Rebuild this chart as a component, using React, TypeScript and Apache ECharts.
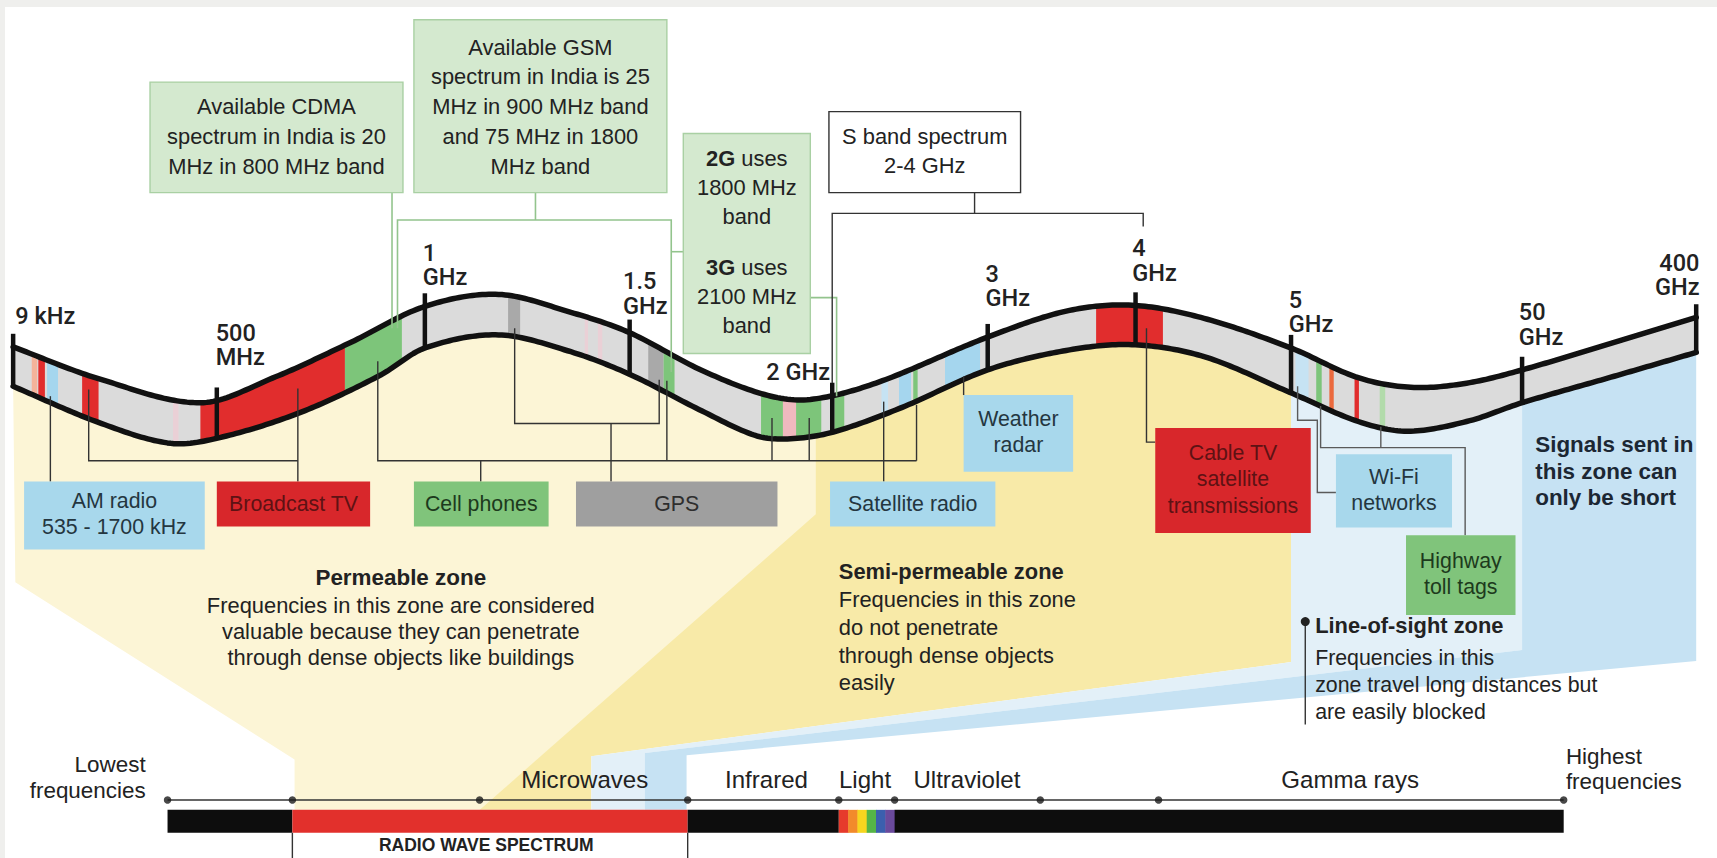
import React, { useEffect, useRef } from "react";
import * as echarts from "echarts";

const W = 1717;
const H = 858;
const LW = 1568; // layout units the reference was read in
const LH = 784;
const KX = W / LW;
const KY = H / LH;

// ================= DATA =================
// wave ribbon outline: position along the ribbon -> height
const topAt = [12, 90, 183, 250, 320, 388, 455, 520, 575, 640, 700, 740, 800, 902, 975, 1035, 1100, 1179, 1240, 1290, 1340, 1390, 1470, 1549];
const topY = [317, 346, 368, 345, 313, 280, 269, 285, 304, 338, 361, 365, 350, 308, 284, 279, 291, 318, 345, 354, 350, 338, 314, 290];
const botAt = [12, 90, 155, 200, 274, 347, 388, 455, 520, 575, 640, 690, 720, 760, 822, 902, 975, 1035, 1100, 1179, 1240, 1285, 1340, 1390, 1470, 1549];
const botY = [353, 386, 405, 400, 377, 343, 318, 306, 321, 342, 375, 398, 401, 395, 373, 338, 320, 315, 326, 359, 385, 394, 385, 368, 345, 322];

// frequency marks on the ribbon
const tickAt = [12, 198, 388, 575, 760, 902, 1037, 1179, 1390, 1549];
const tickNames = ["9 kHz", "500\nMHz", "1\nGHz", "1.5\nGHz", "2 GHz", "3\nGHz", "4\nGHz", "5\nGHz", "50\nGHz", "400\nGHz"];

// allocated bands on the ribbon
const bandFrom = [29, 35, 43, 75, 158, 183, 315, 464, 534, 546, 592, 606, 695, 715, 727, 762, 805, 821, 834, 863, 1001, 1183, 1202, 1214, 1237, 1260];
const bandTo = [34, 41, 53, 90, 163, 315, 367, 475, 537, 550, 606, 616, 715, 727, 750, 771, 811, 832, 838, 895, 1062, 1195, 1207, 1218, 1241, 1265];
const bandUse = ["salmon", "red", "blue", "red", "faintPink", "red", "green", "gray", "faintPink", "faintPink", "gray", "green", "green", "pink", "green", "green", "paleBlue", "blue", "green", "blue", "red", "paleBlue", "green", "orange", "red", "paleGreen"];

// services
const serviceNames = ["AM radio\n535 - 1700 kHz", "Broadcast TV", "Cell phones", "GPS", "Satellite radio", "Weather\nradar", "Cable TV\nsatellite\ntransmissions", "Wi-Fi\nnetworks", "Highway\ntoll tags"];
const serviceUse = ["blue", "red", "green", "gray", "blue", "blue", "red", "blue", "green"];

// callouts
const cdmaNote = "Available CDMA\nspectrum in India is 20\nMHz in 800 MHz band";
const gsmNote = "Available GSM\nspectrum in India is 25\nMHz in 900 MHz band\nand 75 MHz in 1800\nMHz band";
const note2G = "{b|2G} uses\n1800 MHz\nband";
const note3G = "{b|3G} uses\n2100 MHz\nband";
const sBandNote = "S band spectrum\n2-4 GHz";

// zones
const zoneTitles = ["Permeable zone", "Semi-permeable zone", "Line-of-sight zone"];
const zoneNotes = [
  "Frequencies in this zone are considered\nvaluable because they can penetrate\nthrough dense objects like buildings",
  "Frequencies in this zone\ndo not penetrate\nthrough dense objects\neasily",
  "Frequencies in this\nzone travel long distances but\nare easily blocked",
];
const shortZoneNote = "Signals sent in\nthis zone can\nonly be short";

// electromagnetic spectrum bar
const spectrumStops = [153, 267, 438, 628, 766, 817, 950, 1058, 1428];
const spectrumFrom = [153, 267, 628, 766, 817];
const spectrumTo = [267, 628, 766, 817, 1428];
const spectrumKind = ["dark", "radio", "dark", "visible", "dark"];
const spectrumNames = ["Microwaves", "Infrared", "Light", "Ultraviolet", "Gamma rays"];
const lowestName = "Lowest\nfrequencies";
const highestName = "Highest\nfrequencies";
const radioBandName = "RADIO WAVE SPECTRUM";

// ================= STYLE / LAYOUT =================
const FONT = "'Liberation Sans', Arial, Helvetica, sans-serif";
const MARK_FONT = "Roboto, 'Liberation Sans', Arial, sans-serif";
const INK = "#222222";

const bandColour: Record<string, string> = {
  red: "#e12d2d", green: "#7dc57a", blue: "#a5d6ee", gray: "#a9a9a9", pink: "#f0b9bf",
  faintPink: "#ead0d6", salmon: "#f4b39a", paleBlue: "#c6e3f3", orange: "#eb6a3e", paleGreen: "#b2dbab",
};
const boxColour: Record<string, string> = { blue: "#a8d8ec", red: "#d8272b", green: "#80c47b", gray: "#9f9f9f" };
const boxInk: Record<string, string> = { blue: "#243640", red: "#5e1214", green: "#1d3a1d", gray: "#2e2e2e" };
const visibleColours = ["#e63a2c", "#f28a2b", "#f6d51f", "#55b447", "#3b5fae", "#6a4a9c"];

const tickLabelLayout: [number, number, string][] = [
  [14, 289, "left"], [197, 304, "left"], [386, 231, "left"], [569, 257, "left"], [758, 340, "right"],
  [900, 250, "left"], [1034, 227, "left"], [1177, 274, "left"], [1387, 285, "left"], [1552, 240, "right"],
];
const serviceBoxes = [
  [22, 440, 187, 502], [198, 440, 338, 481], [378, 440, 501, 481], [526, 440, 710, 481], [758, 440, 909, 481],
  [880, 361, 980, 431], [1055, 391, 1197, 487], [1220, 415, 1326, 482], [1284, 489, 1384, 562],
];
const zoneSpan = [[12, 748], [745, 1179], [1179, 1390], [1390, 1549]];
const zoneTail = [
  [[748, 470], [438, 740], [269, 740], [269, 694], [14, 532], [12, 353]],
  [[1179, 605], [540, 691], [540, 740], [438, 740], [745, 470]],
  [[1390, 594], [589, 688], [589, 740], [540, 740], [540, 691], [1179, 605]],
  [[1549, 604], [627, 690], [627, 740], [589, 740], [589, 688], [1390, 594]],
];
const zoneFill = ["#fcf5d6", "#f8eaa8", "#e3f0f8", "#c6e2f3"];
const BAR_LINE = 731;
const BAR_TOP = 740;
const BAR_BOTTOM = 761;

const links: [number[][], string][] = [
  [[[46, 362], [46, 440]], "dark"],
  [[[81, 356], [81, 421], [272, 421]], "dark"],
  [[[272, 355], [272, 440]], "dark"],
  [[[345, 330], [345, 421], [837, 421]], "dark"],
  [[[609, 348], [609, 421]], "dark"],
  [[[705, 382], [705, 421]], "dark"],
  [[[739, 382], [739, 421]], "dark"],
  [[[837, 370], [837, 421]], "dark"],
  [[[439, 421], [439, 440]], "dark"],
  [[[470, 300], [470, 387], [602, 387], [602, 347]], "dark"],
  [[[558, 387], [558, 440]], "dark"],
  [[[807, 367], [807, 440]], "dark"],
  [[[880, 344], [880, 361]], "dark"],
  [[[1047, 300], [1047, 404], [1055, 404]], "dark"],
  [[[1185, 353], [1185, 384], [1203, 384], [1203, 450], [1220, 450]], "grey"],
  [[[1206, 371], [1206, 409], [1338, 409], [1338, 489]], "grey"],
  [[[1261, 390], [1261, 409]], "grey"],
  [[[358, 176], [358, 300]], "green"],
  [[[489, 176], [489, 201]], "green"],
  [[[363, 300], [363, 201], [613, 201], [613, 340]], "green"],
  [[[613, 230], [624, 230]], "green"],
  [[[740, 272], [764, 272], [764, 362]], "green"],
  [[[890, 176], [890, 195]], "dark"],
  [[[760, 350], [760, 195], [1044, 195], [1044, 207]], "dark"],
  [[[1192, 568], [1192, 662]], "dark"],
  [[[267, 761], [267, 790]], "dark"],
  [[[628, 761], [628, 790]], "dark"],
];
const linkColour: Record<string, string> = { dark: "#333333", grey: "#5a5a5a", green: "#93c48d" };

// ================= helpers =================
function smoothCurve(xs: number[], ys: number[]) {
  const n = xs.length;
  const m: number[] = [];
  for (let i = 0; i < n; i++) {
    if (i === 0) m.push((ys[1] - ys[0]) / (xs[1] - xs[0]));
    else if (i === n - 1) m.push((ys[n - 1] - ys[n - 2]) / (xs[n - 1] - xs[n - 2]));
    else m.push((ys[i + 1] - ys[i - 1]) / (xs[i + 1] - xs[i - 1]));
  }
  return (x: number) => {
    let i = 0;
    while (i < n - 2 && x > xs[i + 1]) i++;
    const h = xs[i + 1] - xs[i];
    const t = Math.min(1, Math.max(0, (x - xs[i]) / h));
    const t2 = t * t;
    const t3 = t2 * t;
    return (2 * t3 - 3 * t2 + 1) * ys[i] + (t3 - 2 * t2 + t) * h * m[i] + (-2 * t3 + 3 * t2) * ys[i + 1] + (t3 - t2) * h * m[i + 1];
  };
}
const topF = smoothCurve(topAt, topY);
const botF = smoothCurve(botAt, botY);

const X = (v: number) => v * KX;
const Y = (v: number) => v * KY;
const F = (v: number) => v * KY;

function sampleEdge(a: number, b: number, f: (x: number) => number, off = 0) {
  const pts: number[][] = [];
  const n = Math.max(2, Math.ceil((b - a) / 3));
  for (let k = 0; k <= n; k++) {
    const x = a + ((b - a) * k) / n;
    pts.push([x, f(x) + off]);
  }
  return pts;
}

function txt(text: string, x: number, y: number, o: any = {}) {
  const align = o.align || "left";
  const va = o.valign || "middle";
  return {
    type: "text",
    z: o.z || 9,
    x: X(x),
    y: Y(y),
    style: {
      text,
      fill: o.color || INK,
      fontSize: F(o.size || 20),
      fontFamily: o.family || FONT,
      fontWeight: o.weight || "normal",
      align,
      textAlign: align,
      verticalAlign: va,
      textVerticalAlign: va,
      lineHeight: F(o.lh || 24),
      rich: o.rich,
    },
  };
}
function rectEl(b: number[], fill: string, stroke?: string, z = 8) {
  return {
    type: "rect",
    z,
    shape: { x: X(b[0]), y: Y(b[1]), width: X(b[2] - b[0]), height: Y(b[3] - b[1]) },
    style: { fill, stroke: stroke || null, lineWidth: stroke ? 1.4 : 0 },
  };
}
function polyEl(pts: number[][], stroke: string, w = 1.4, z = 7) {
  return {
    type: "polyline",
    z,
    shape: { points: pts.map((p) => [X(p[0]), Y(p[1])]) },
    style: { stroke, lineWidth: w, fill: null },
  };
}

function buildGraphic() {
  const els: any[] = [];
  els.push({ type: "rect", z: 0, shape: { x: 0, y: 0, width: W, height: 7 }, style: { fill: "#efefed" } });
  els.push({ type: "rect", z: 0, shape: { x: 0, y: 0, width: 5, height: H }, style: { fill: "#efefed" } });

  links.forEach(([pts, c]) => els.push(polyEl(pts, linkColour[c], c === "green" ? 1.6 : 1.4)));
  els.push({ type: "circle", z: 8, shape: { cx: X(1192), cy: Y(568), r: 4.5 }, style: { fill: "#222" } });

  // callout boxes
  const calloutFill = "#d4e9cf";
  const calloutStroke = "#a9d0a3";
  els.push(rectEl([137, 75, 368, 176], calloutFill, calloutStroke));
  els.push(txt(cdmaNote, 252.5, 125, { align: "center", lh: 27.5, size: 20 }));
  els.push(rectEl([378, 18, 609, 176], calloutFill, calloutStroke));
  els.push(txt(gsmNote, 493.5, 97.5, { align: "center", lh: 27.2, size: 20 }));
  els.push(rectEl([624, 122, 740, 323], calloutFill, calloutStroke));
  const rich = { b: { fontWeight: "bold", fontSize: F(20), fontFamily: FONT, fill: INK, lineHeight: F(26.5) } };
  els.push(txt(note2G, 682, 171.5, { align: "center", lh: 26.5, size: 20, rich }));
  els.push(txt(note3G, 682, 271, { align: "center", lh: 26.5, size: 20, rich }));
  els.push(rectEl([757, 102, 932, 176], "#ffffff", "#333333"));
  els.push(txt(sBandNote, 844.5, 138, { align: "center", lh: 26, size: 20 }));

  // service boxes
  serviceNames.forEach((name, i) => {
    const b = serviceBoxes[i];
    const kind = serviceUse[i];
    els.push(rectEl(b, boxColour[kind]));
    const lines = name.split("\n").length;
    els.push(txt(name, (b[0] + b[2]) / 2, (b[1] + b[3]) / 2 - (lines === 1 ? 0 : 1), {
      align: "center", size: 19.5, lh: lines === 3 ? 24.5 : 24, color: boxInk[kind],
    }));
  });

  // zone notes
  els.push(txt(zoneTitles[0], 366, 528, { align: "center", weight: "bold", size: 20.5 }));
  els.push(txt(zoneNotes[0], 366, 577, { align: "center", lh: 24, size: 20 }));
  els.push(txt(zoneTitles[1], 766, 522, { weight: "bold", size: 20 }));
  els.push(txt(zoneNotes[1], 766, 586, { lh: 25.3, size: 20 }));
  els.push(txt(zoneTitles[2], 1201, 572, { weight: "bold", size: 20 }));
  els.push(txt(zoneNotes[2], 1201, 626, { lh: 25, size: 19.5 }));
  els.push(txt(shortZoneNote, 1402, 430.5, { weight: "bold", size: 20.5, lh: 24.5, color: "#1c2733" }));

  // spectrum labels
  const labX = [534, 700, 790, 883, 1233];
  spectrumNames.forEach((n, i) => els.push(txt(n, labX[i], 712, { align: "center", size: 22 })));
  els.push(txt(lowestName, 133, 710.5, { align: "right", size: 20.5, lh: 23 }));
  els.push(txt(highestName, 1430, 703, { align: "left", size: 20.5, lh: 23 }));
  els.push(txt(radioBandName, 444, 772.5, { align: "center", size: 16, weight: "bold" }));
  return els;
}

function buildOption() {
  return {
    animation: false,
    backgroundColor: "#ffffff",
    grid: { left: 0, right: 0, top: 0, bottom: 0, containLabel: false },
    xAxis: { type: "value", min: 0, max: LW, show: false },
    yAxis: { type: "value", min: 0, max: LH, inverse: true, show: false },
    series: [
      {
        type: "custom",
        name: "zones",
        z: 1,
        silent: true,
        data: zoneSpan.map((s, i) => [s[0], s[1], i]),
        renderItem: (_p: any, api: any) => {
          const a = api.value(0);
          const b = api.value(1);
          const i = api.value(2);
          const pts = sampleEdge(a, b, botF, -3).concat(zoneTail[i]).map((p) => api.coord(p));
          return { type: "polygon", shape: { points: pts }, style: { fill: zoneFill[i] } };
        },
      },
      {
        type: "custom",
        name: "ribbon",
        z: 3,
        silent: true,
        data: [[tickAt[0], tickAt[tickAt.length - 1]]],
        renderItem: (_p: any, api: any) => {
          const a = api.value(0);
          const b = api.value(1);
          const pts = sampleEdge(a, b, topF).concat(sampleEdge(a, b, botF).reverse()).map((p) => api.coord(p));
          return { type: "polygon", shape: { points: pts }, style: { fill: "#dbdbdb" } };
        },
      },
      {
        type: "custom",
        name: "bands",
        z: 4,
        silent: true,
        data: bandFrom.map((f, i) => [f, bandTo[i], i]),
        renderItem: (_p: any, api: any) => {
          const a = api.value(0);
          const b = api.value(1);
          const i = api.value(2);
          const pts = sampleEdge(a, b, topF).concat(sampleEdge(a, b, botF).reverse()).map((p) => api.coord(p));
          return { type: "polygon", shape: { points: pts }, style: { fill: bandColour[bandUse[i]] } };
        },
      },
      {
        type: "custom",
        name: "outline",
        z: 5,
        silent: true,
        data: [[tickAt[0], tickAt[tickAt.length - 1]]],
        renderItem: (_p: any, api: any) => {
          const a = api.value(0);
          const b = api.value(1);
          const st = { stroke: "#111111", lineWidth: 5.5, fill: null, lineJoin: "round", lineCap: "round" };
          return {
            type: "group",
            children: [
              { type: "polyline", shape: { points: sampleEdge(a, b, topF).map((p) => api.coord(p)) }, style: st },
              { type: "polyline", shape: { points: sampleEdge(a, b, botF).map((p) => api.coord(p)) }, style: st },
            ],
          };
        },
      },
      {
        type: "custom",
        name: "ticks",
        z: 6,
        silent: true,
        data: tickAt.map((t, i) => [t, i]),
        renderItem: (_p: any, api: any) => {
          const x = api.value(0);
          const i = api.value(1);
          const p1 = api.coord([x, topF(x) - 12]);
          const p2 = api.coord([x, botF(x) + 1.5]);
          const lay = tickLabelLayout[i];
          const name = tickNames[i];
          const lines = name.split("\n").length;
          const lh = 22.5;
          const lp = api.coord([lay[0], lay[1] + ((lines - 1) * lh) / 2]);
          return {
            type: "group",
            children: [
              { type: "line", shape: { x1: p1[0], y1: p1[1], x2: p2[0], y2: p2[1] }, style: { stroke: "#111111", lineWidth: 4.5 } },
              {
                type: "text",
                x: lp[0],
                y: lp[1],
                style: {
                  text: name, fill: INK, fontSize: F(21.5), fontFamily: MARK_FONT, fontWeight: 500,
                  align: lay[2], textAlign: lay[2], verticalAlign: "middle", textVerticalAlign: "middle", lineHeight: F(lh),
                },
              },
            ],
          };
        },
      },
      {
        type: "line",
        name: "spectrum line",
        z: 3,
        silent: true,
        symbol: "none",
        data: [[spectrumStops[0], BAR_LINE], [spectrumStops[spectrumStops.length - 1], BAR_LINE]],
        lineStyle: { color: "#333333", width: 1.6 },
      },
      {
        type: "scatter",
        name: "spectrum stops",
        z: 4,
        silent: true,
        symbolSize: 7.5,
        data: spectrumStops.map((s) => [s, BAR_LINE]),
        itemStyle: { color: "#1a1a1a" },
      },
      {
        type: "custom",
        name: "spectrum bar",
        z: 4,
        silent: true,
        data: spectrumFrom.map((f, i) => [f, spectrumTo[i], i]),
        renderItem: (_p: any, api: any) => {
          const a = api.value(0);
          const b = api.value(1);
          const kind = spectrumKind[api.value(2)];
          const p1 = api.coord([a, BAR_TOP]);
          const p2 = api.coord([b, BAR_BOTTOM]);
          if (kind === "visible") {
            const w = (p2[0] - p1[0]) / visibleColours.length;
            return {
              type: "group",
              children: visibleColours.map((c, k) => ({
                type: "rect",
                shape: { x: p1[0] + k * w, y: p1[1], width: w + 0.5, height: p2[1] - p1[1] },
                style: { fill: c },
              })),
            };
          }
          return {
            type: "rect",
            shape: { x: p1[0], y: p1[1], width: p2[0] - p1[0], height: p2[1] - p1[1] },
            style: { fill: kind === "radio" ? "#e2302c" : "#0d0d0d" },
          };
        },
      },
    ],
    graphic: { elements: buildGraphic() },
  };
}

export default function App() {
  const ref = useRef<HTMLDivElement>(null);
  useEffect(() => {
    if (!ref.current) return;
    const chart = echarts.init(ref.current, undefined, { renderer: "svg" });
    chart.setOption(buildOption() as any);
    return () => chart.dispose();
  }, []);
  return <div ref={ref} style={{ position: "fixed", left: 0, top: 0, width: W, height: H }} />;
}
